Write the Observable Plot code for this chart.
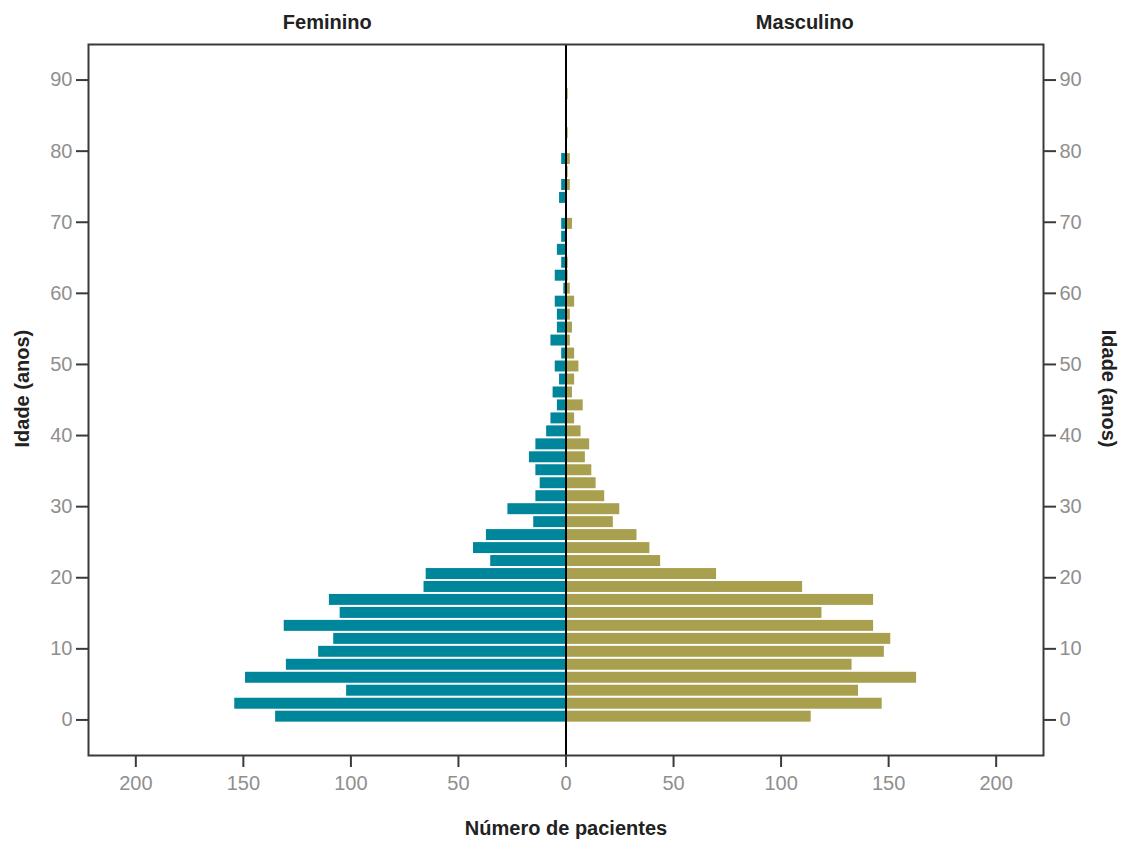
<!DOCTYPE html>
<html><head><meta charset="utf-8">
<script src="https://cdn.jsdelivr.net/npm/d3@7"></script>
<script src="https://cdn.jsdelivr.net/npm/@observablehq/plot@0.6"></script>
<style>body{margin:0;background:#fff}</style>
</head><body><div id="chart"></div>
<script>
// Lower edge (years) of each age bin of the histogram
const ageBinStart = [-0.45, 1.37, 3.20, 5.02, 6.85, 8.67, 10.49, 12.32, 14.14, 15.97,
  17.79, 19.61, 21.44, 23.26, 25.09, 26.91, 28.73, 30.56, 32.38, 34.21,
  36.03, 37.85, 39.68, 41.50, 43.33, 45.15, 46.97, 48.80, 50.62, 52.45,
  54.27, 56.09, 57.92, 59.74, 61.57, 63.39, 65.21, 67.04, 68.86, 70.69,
  72.51, 74.33, 76.16, 77.98, 79.81, 81.63, 83.45, 85.28, 87.10];
const binWidth = 1.824;
const feminino = [135, 154, 102, 149, 130, 115, 108, 131, 105, 110,
  66, 65, 35, 43, 37, 15, 27, 14, 12, 14,
  17, 14, 9, 7, 4, 6, 3, 5, 2, 7,
  4, 4, 5, 1, 5, 2, 4, 2, 2, 0,
  3, 2, 0, 2, 0, 0, 0, 0, 0];
const masculino = [114, 147, 136, 163, 133, 148, 151, 143, 119, 143,
  110, 70, 44, 39, 33, 22, 25, 18, 14, 12,
  9, 11, 7, 4, 8, 3, 4, 6, 4, 2,
  3, 2, 4, 2, 1, 1, 0, 0, 3, 0,
  0, 2, 1, 2, 0, 1, 0, 0, 1];
const sexLabels = ["Feminino", "Masculino"];
const sexColors = ["#00869b", "#a9a04f"];
const yTicks = [0, 10, 20, 30, 40, 50, 60, 70, 80, 90];
const xTicks = [-200, -150, -100, -50, 0, 50, 100, 150, 200];
const xDomain = [-222, 222];
const yDomain = [-5, 95];
const yLabel = "Idade (anos)";
const xLabel = "Número de pacientes";

const rows = ageBinStart.flatMap((a, i) => [
  {sexo: sexLabels[0], age: a, n: -feminino[i]},
  {sexo: sexLabels[1], age: a, n: masculino[i]}
]);
const yMid = (yDomain[0] + yDomain[1]) / 2 + 1.6;

const font = "'Liberation Sans Narrow', 'Liberation Sans', Arial, sans-serif";
const tickColor = "#3a3a3a";
const labelGrey = "#8f8f8f";
const titleStyle = {fontWeight: "bold", fontSize: 20, fill: "#222", lineAnchor: "middle", textAnchor: "middle"};

const chart = Plot.plot({
  width: 1122, height: 841,
  marginLeft: 88, marginRight: 79, marginTop: 44, marginBottom: 86,
  style: {fontFamily: font, fontSize: "20px", background: "#fff"},
  x: {domain: xDomain},
  y: {domain: yDomain},
  color: {domain: sexLabels, range: sexColors},
  marks: [
    Plot.rectX(rows, {x1: 0, x2: "n", y1: "age", y2: d => d.age + binWidth, fill: "sexo", insetTop: 1, insetBottom: 1}),
    Plot.ruleX([0], {stroke: "#000", strokeWidth: 2}),
    Plot.frame({stroke: tickColor, strokeWidth: 2}),
    Plot.axisY({anchor: "left", ticks: yTicks, tickSize: 12, tickPadding: 4, stroke: tickColor, strokeWidth: 2, fill: labelGrey, fontSize: 20, label: null}),
    Plot.axisY({anchor: "right", ticks: yTicks, tickSize: 12, tickPadding: 4, stroke: tickColor, strokeWidth: 2, fill: labelGrey, fontSize: 20, label: null}),
    Plot.axisX({anchor: "bottom", ticks: xTicks, tickSize: 12, tickPadding: 8, stroke: tickColor, strokeWidth: 2, fill: labelGrey, fontSize: 20, tickFormat: d => Math.abs(d), label: null}),
    Plot.text(sexLabels, {x: [xDomain[0] / 2, xDomain[1] / 2], text: d => d, frameAnchor: "top", dy: -22, ...titleStyle}),
    Plot.text([xLabel], {x: [0], frameAnchor: "bottom", dy: 73, ...titleStyle}),
    Plot.text([yLabel], {y: [yMid], frameAnchor: "left", dx: -66, rotate: -90, ...titleStyle}),
    Plot.text([yLabel], {y: [yMid], frameAnchor: "right", dx: 65, rotate: 90, ...titleStyle})
  ]
});
document.getElementById("chart").appendChild(chart);
</script>
</body></html>
